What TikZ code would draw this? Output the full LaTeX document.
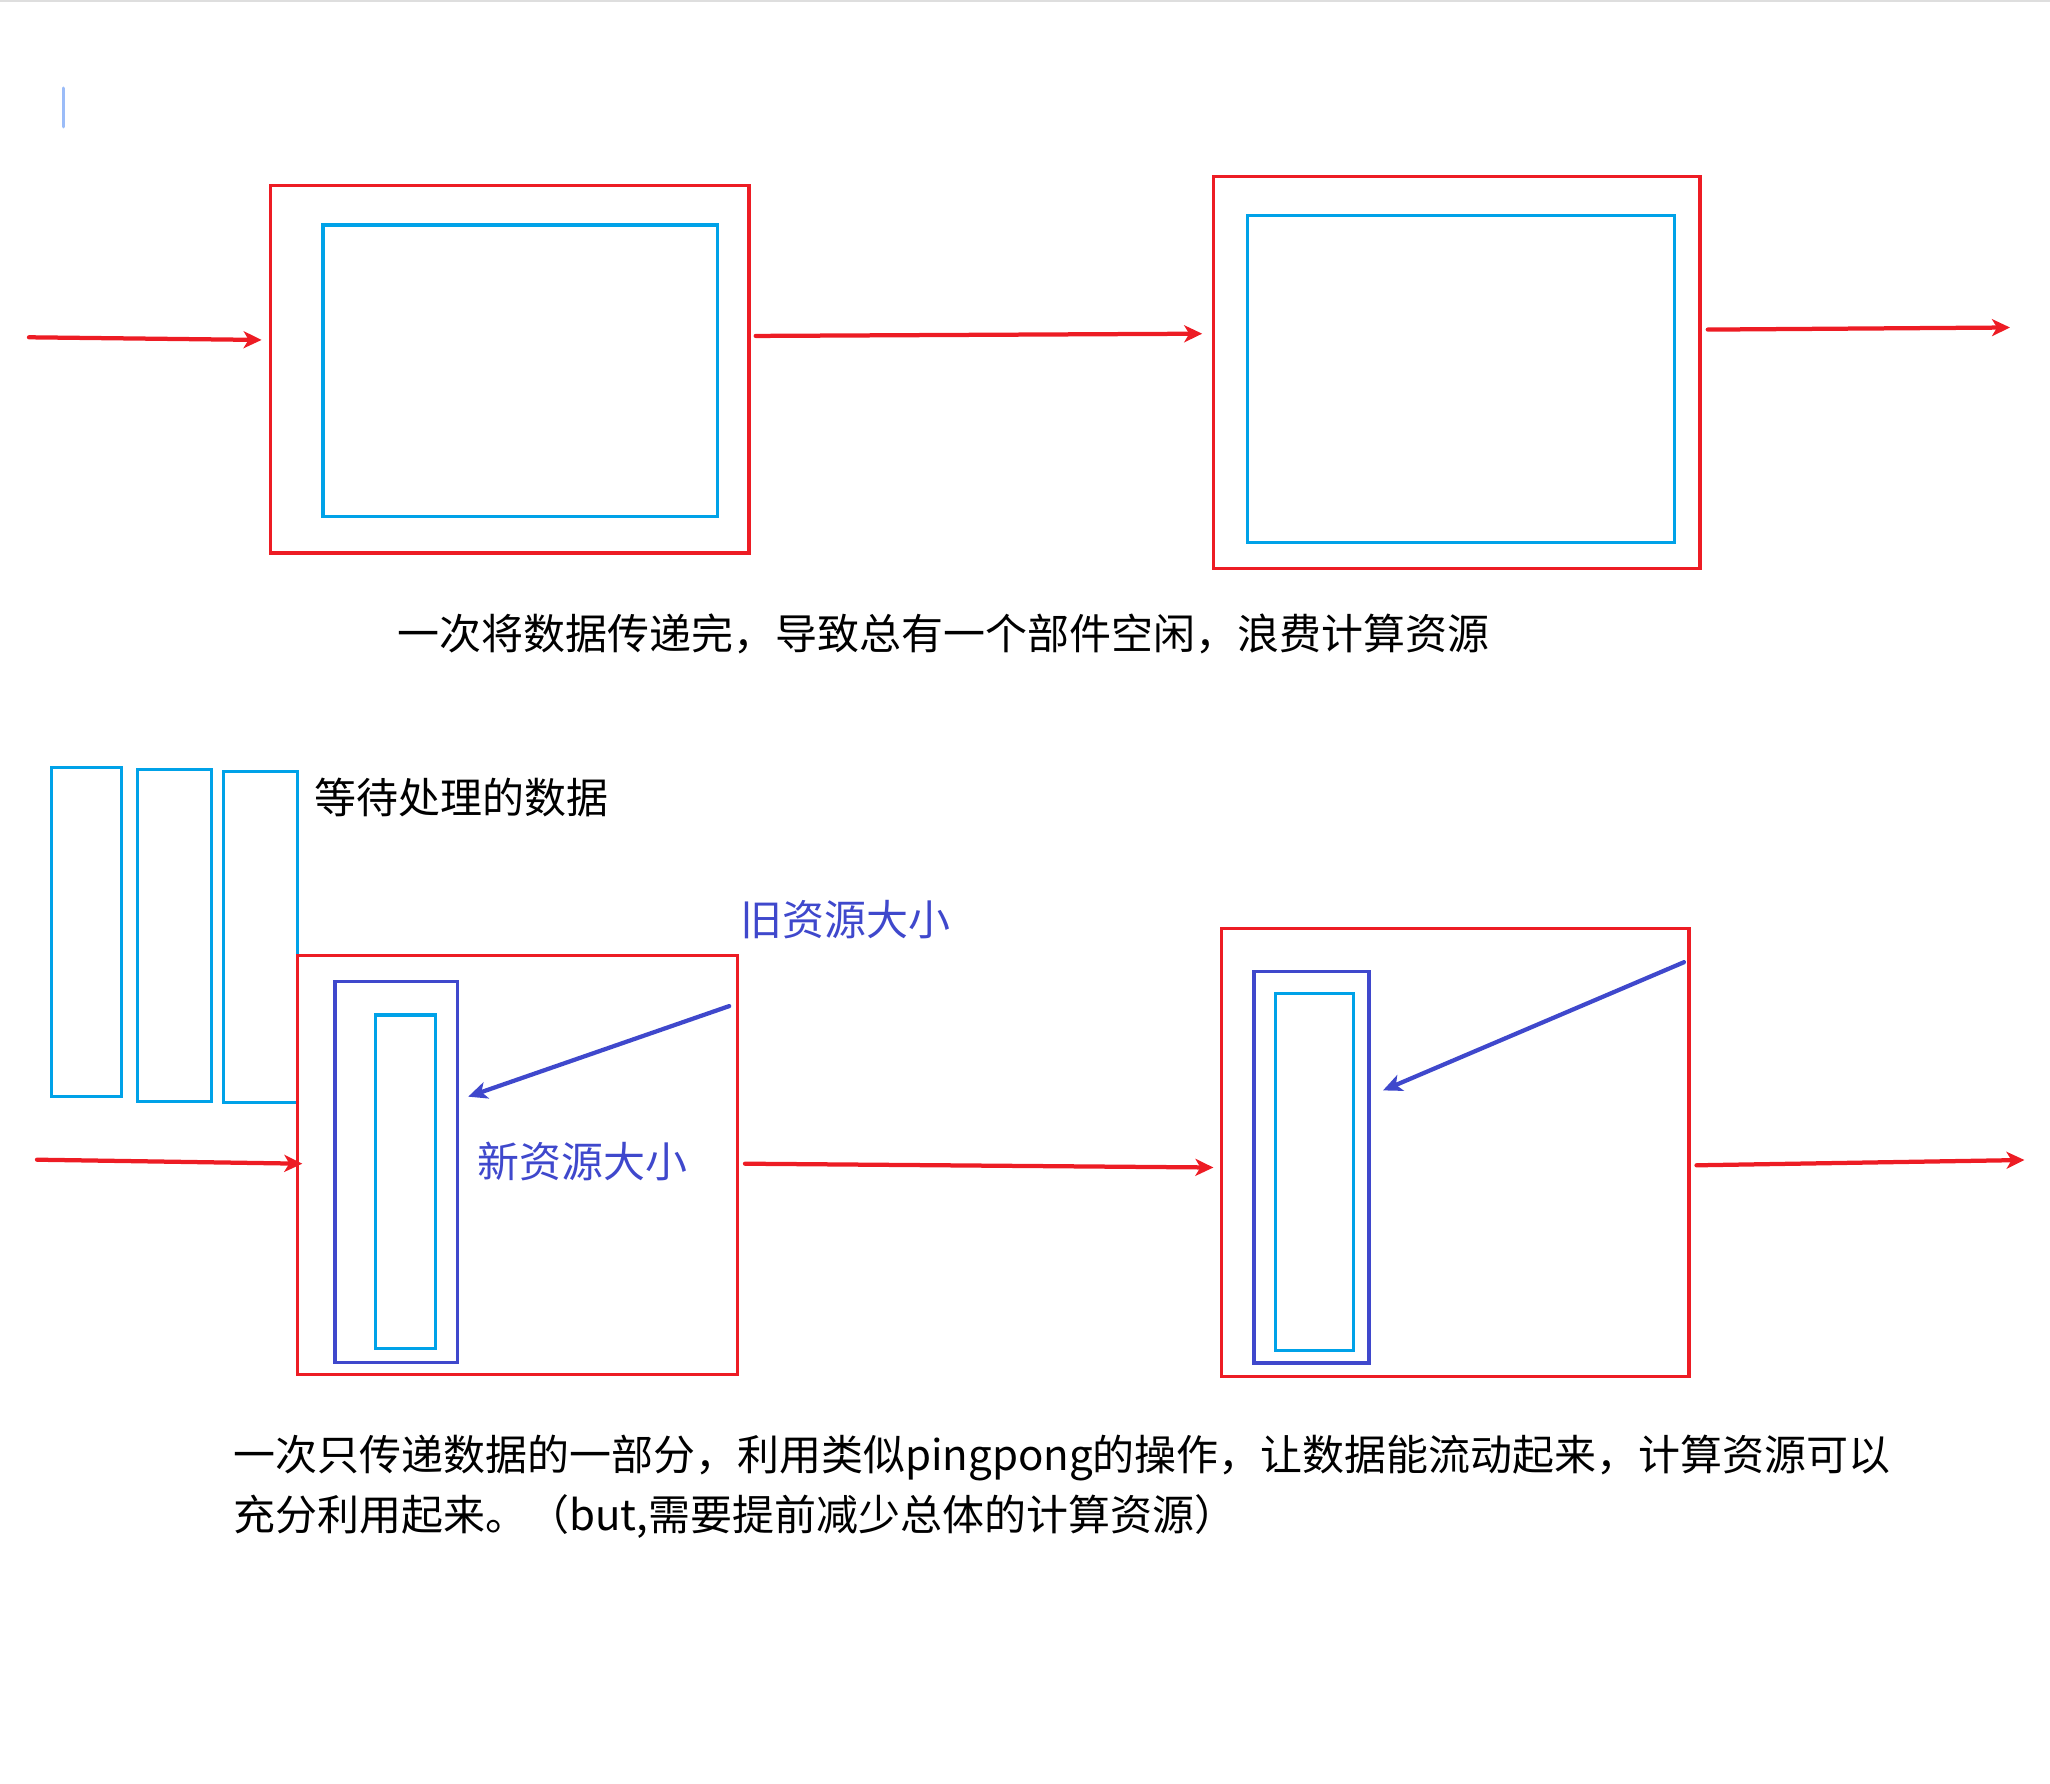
\documentclass[tikz,border=0pt]{standalone}
\usepackage{fontspec}
\newfontfamily\cjk{Noto Sans CJK SC}
\usetikzlibrary{arrows.meta,fit,calc}
\definecolor{boxred}{RGB}{237,28,36}
\definecolor{databl}{RGB}{0,162,232}
\definecolor{respur}{RGB}{63,72,204}
\definecolor{caret}{RGB}{155,188,248}
\tikzset{
  redbox/.style={draw=boxred, line width=0.065cm, inner sep=0pt, outer sep=0pt},
  databox/.style={draw=databl, line width=0.065cm, inner sep=0pt, outer sep=0pt},
  resbox/.style={draw=respur, line width=0.07cm, inner sep=0pt, outer sep=0pt},
  flow/.style={draw=boxred, line width=0.085cm, line cap=round,
    -{Stealth[length=0.36cm,width=0.34cm,inset=0.1cm]}},
  shrink/.style={draw=respur, line width=0.085cm, line cap=round,
    -{Stealth[length=0.38cm,width=0.34cm,inset=0.1cm]}},
  txt/.style={font=\cjk\fontsize{23.9pt}{30pt}\selectfont, inner sep=0pt, anchor=base west}
}
\begin{document}
\begin{tikzpicture}[x=0.02cm,y=-0.02cm]
\useasboundingbox (0,0) rectangle (2050,1784);
\draw[black!13, line width=0.05cm] (0,1.2) -- (2050,1.2);
\draw[caret, line width=0.06cm, line cap=round] (63,88) -- (63,127);

% one shot: whole data passed at once
\node[redbox, fit={(270.6,185.7) (749.1,553)}] (oldA) {};
\node[databox, fit={(323,225) (717.5,516.5)}] (oldAin) {};
\node[redbox, fit={(1213.5,176.5) (1700,568.7)}] (oldB) {};
\node[databox, fit={(1247.5,215.7) (1674.8,542.6)}] (oldBin) {};
\coordinate (inOld) at (29,337.3);
\coordinate (outOld) at (2010,327.5);
\draw[flow] (inOld) -- ($(oldA.west)+(-9,-29.4)$);
\draw[flow] ($(oldA.east)+(6.6,-33.4)$) -- ($(oldB.west)+(-11.3,-38.9)$);
\draw[flow] ($(oldB.east)+(7.8,-43)$) -- (outOld);
\node[txt] (capOld) at (397,649) {一次将数据传递完，导致总有一个部件空闲，浪费计算资源};

% pingpong: data in slices
\node[databox, fit={(51.7,767.8) (121.4,1096.6)}] (wait1) {};
\node[databox, fit={(137.3,769.5) (211.4,1101.6)}] (wait2) {};
\node[databox, fit={(223.4,771.6) (297.6,1102.8)}] (wait3) {};
\node[txt] (lblWait) at (314,813) {等待处理的数据};

\node[redbox, fit={(297.8,955.8) (737.2,1374.6)}] (newA) {};
\node[resbox, fit={(335.2,981.5) (457.4,1362.4)}] (newAres) {};
\node[databox, fit={(375.5,1015) (435.6,1348.6)}] (newAdata) {};
\node[redbox, fit={(1221.4,928.2) (1689,1376.8)}] (newB) {};
\node[resbox, fit={(1254,971.4) (1369,1362.8)}] (newBres) {};
\node[databox, fit={(1275.8,993.7) (1353.3,1350.6)}] (newBdata) {};

\node[txt, text=respur] (lblOldSize) at (740,935) {旧资源大小};
\node[txt, text=respur] (lblNewSize) at (477.5,1177) {新资源大小};
\draw[shrink] ($(newA.north east)+(-8,50.3)$) -- ($(newAres.east)+(10.8,-75.3)$);
\draw[shrink] ($(newB.north east)+(-5,34)$) -- ($(newBres.east)+(14,-76.7)$);

\coordinate (inNew) at (37,1159.7);
\coordinate (outNew) at (2024.5,1160);
\draw[flow] (inNew) -- ($(newA.west)+(4.5,-1.5)$);
\draw[flow] ($(newA.east)+(7.8,-1.5)$) -- ($(newB.west)+(-8,15)$);
\draw[flow] ($(newB.east)+(7.5,12.8)$) -- (outNew);

\node[txt] (capNewA) at (233,1470) {一次只传递数据的一部分，利用类似pingpong的操作，让数据能流动起来，计算资源可以};
\node[txt] (capNewB) at (233,1530) {充分利用起来。（but,需要提前减少总体的计算资源）};
\end{tikzpicture}
\end{document}
